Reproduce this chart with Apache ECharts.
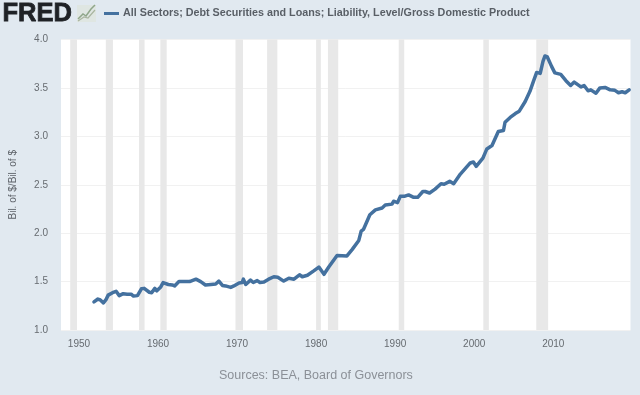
<!DOCTYPE html>
<html>
<head>
<meta charset="utf-8">
<style>
html,body{margin:0;padding:0;background:#e1e9f0;}
#c{width:640px;height:395px;filter:blur(0.55px);}
</style>
<script src="https://cdn.jsdelivr.net/npm/echarts@6/dist/echarts.min.js"></script>
</head>
<body>
<div id="c"></div>
<script>
const seriesName = 'All Sectors; Debt Securities and Loans; Liability, Level/Gross Domestic Product';
const yAxisName = 'Bil. of $/Bil. of $';
const sourceText = 'Sources: BEA, Board of Governors';
const xTicks = [1950,1960,1970,1980,1990,2000,2010];
const yTicks = [1.0,1.5,2.0,2.5,3.0,3.5,4.0];
const recessionStart = [1948.9,1953.4,1957.6,1960.3,1969.8,1973.8,1980.0,1981.5,1990.45,2001.15,2007.85];
const recessionEnd   = [1949.75,1954.3,1958.3,1961.1,1970.75,1975.1,1980.6,1982.8,1991.15,2001.85,2009.35];
const years = [1951.9,1952.4,1952.7,1953.1,1953.4,1953.7,1954.25,1954.7,1955.1,1955.6,1956.1,1956.6,1956.9,1957.4,1957.9,1958.25,1958.9,1959.2,1959.6,1959.85,1960.35,1960.65,1961.3,1961.8,1962.1,1962.65,1963.3,1964.0,1964.8,1965.4,1966.0,1966.7,1967.3,1967.7,1968.15,1968.55,1968.8,1969.2,1969.6,1969.8,1970.25,1970.65,1970.8,1971.1,1971.7,1972.05,1972.55,1972.9,1973.4,1974.0,1974.65,1975.15,1975.9,1976.55,1977.2,1977.9,1978.25,1978.9,1979.7,1980.35,1981.0,1981.6,1982.65,1983.9,1984.55,1985.4,1985.7,1986.0,1986.8,1987.5,1988.35,1988.75,1989.6,1989.8,1990.3,1990.65,1991.15,1991.7,1992.35,1992.85,1993.5,1993.8,1994.35,1995.05,1995.8,1996.2,1996.9,1997.4,1998.25,1999.5,1999.9,2000.25,2001.1,2001.6,2002.25,2003.05,2003.7,2003.9,2004.55,2005.2,2005.7,2006.45,2007.05,2007.5,2007.9,2008.35,2008.7,2008.95,2009.25,2009.8,2010.2,2010.95,2011.6,2012.2,2012.65,2013.5,2013.9,2014.4,2014.75,2015.4,2015.9,2016.55,2017.2,2017.8,2018.25,2018.7,2019.1,2019.6];
const values = [1.29,1.32,1.31,1.28,1.31,1.36,1.385,1.40,1.355,1.375,1.37,1.37,1.35,1.355,1.425,1.43,1.39,1.385,1.43,1.405,1.445,1.49,1.47,1.465,1.455,1.50,1.50,1.50,1.525,1.50,1.465,1.47,1.475,1.505,1.46,1.455,1.47,1.44,1.455,1.475,1.485,1.49,1.525,1.47,1.515,1.49,1.51,1.49,1.495,1.525,1.55,1.545,1.505,1.535,1.525,1.57,1.55,1.565,1.61,1.65,1.575,1.65,1.77,1.765,1.83,1.925,2.02,2.04,2.19,2.24,2.26,2.29,2.30,2.33,2.315,2.38,2.38,2.395,2.37,2.37,2.43,2.43,2.415,2.455,2.51,2.505,2.535,2.51,2.61,2.725,2.735,2.69,2.775,2.87,2.905,3.05,3.06,3.145,3.195,3.235,3.26,3.36,3.465,3.57,3.66,3.65,3.775,3.83,3.82,3.72,3.655,3.64,3.575,3.525,3.56,3.51,3.525,3.47,3.48,3.445,3.50,3.505,3.48,3.475,3.45,3.46,3.45,3.48];

const chart = echarts.init(document.getElementById('c'), null, {renderer:'canvas'});
chart.setOption({
  animation:false,
  backgroundColor:'#e1e9f0',
  textStyle:{fontFamily:'"Liberation Sans", Arial, sans-serif'},
  grid:{left:60,right:9.5,top:39.5,bottom:65,show:true,backgroundColor:'#ffffff',borderWidth:0},
  legend:{
    show:true,left:99,top:3,itemWidth:15,itemHeight:3,itemGap:4,
    icon:'rect',
    data:[seriesName],
    textStyle:{color:'#595f66',fontSize:10.75,fontWeight:'bold',padding:[0,0,0,-1]}
  },
  xAxis:{
    type:'value',min:1947.73,max:2019.77,
    axisLine:{show:false},axisTick:{show:false},splitLine:{show:false},
    axisLabel:{customValues:xTicks,color:'#666b70',fontSize:10,margin:9,formatter:v=>String(v)}
  },
  yAxis:{
    type:'value',min:1,max:4,interval:0.5,
    name:yAxisName,nameLocation:'middle',nameGap:43,
    nameTextStyle:{color:'#5f646a',fontSize:10},
    axisLine:{show:false},axisTick:{show:false},
    splitLine:{lineStyle:{color:'#f1f1f1',width:1}},
    axisLabel:{color:'#666b70',fontSize:10,margin:13,padding:[4,0,0,0],formatter:v=>yTicks.includes(v)?v.toFixed(1):''}
  },
  series:[{
    name:seriesName,type:'line',showSymbol:false,smooth:false,
    color:'#44719f',
    lineStyle:{width:3.5,color:'#44719f',join:'round',cap:'round'},
    data:years.map((y,i)=>[y,values[i]]),
    markArea:{
      silent:true,
      itemStyle:{color:'#e8e8e8'},
      data:recessionStart.map((s,i)=>[{xAxis:s},{xAxis:recessionEnd[i]}])
    },
    z:3
  }],
  graphic:[
    {type:'text',left:2,top:1,style:{text:'FRED',fill:'#1f2226',stroke:'#1f2226',lineWidth:0.8,font:'bold 25.5px "Liberation Sans", Arial, sans-serif'}},
    {type:'rect',shape:{x:77,y:5,width:19,height:17},style:{fill:'#dfe6e2'}},
    {type:'polyline',shape:{points:[[78,19],[83,14],[86,16],[91,9],[95,5]]},style:{stroke:'#8fa68a',fill:null,lineWidth:1.5}},
    {type:'polyline',shape:{points:[[78,21],[84,17],[88,18],[95,10]]},style:{stroke:'#a9b5a0',fill:null,lineWidth:1.2}},
    {type:'text',left:219,top:369,style:{text:sourceText,fill:'#8b9097',font:'12.5px "Liberation Sans", Arial, sans-serif'}}
  ]
});
</script>
</body>
</html>
